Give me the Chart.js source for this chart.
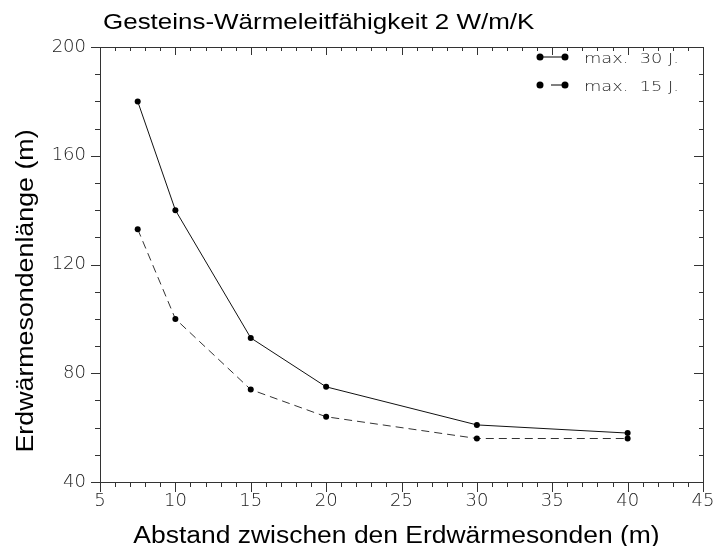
<!DOCTYPE html>
<html>
<head>
<meta charset="utf-8">
<script src="https://cdn.jsdelivr.net/npm/chart.js@4/dist/chart.umd.min.js"></script>
<style>
  html, body { margin: 0; padding: 0; background: #fff; }
  #wrap { width: 715px; height: 546px; }
</style>
</head>
<body>
<div id="wrap"><canvas id="myChart" width="715" height="546"></canvas></div>
<script>
// data
const abstand = [7.5, 10, 15, 20, 30, 40];
const laenge30 = [180, 140, 93, 75, 61, 58];
const laenge15 = [133, 100, 74, 64, 56, 56];
const seriesNames = ["max.  30 J.", "max.  15 J."];
const titleText = "Gesteins-Wärmeleitfähigkeit 2 W/m/K";
const xTitle = "Abstand zwischen den Erdwärmesonden (m)";
const yTitle = "Erdwärmesondenlänge (m)";

const thinFont = "'DejaVu Sans', sans-serif";
const sansFont = "'Liberation Sans', Arial, sans-serif";

function toPoints(xs, ys) {
    return xs.map((x, i) => ({ x: x, y: ys[i] }));
}

// text that is a bit wider than the installed fonts: stretch along its run
function wideText(ctx, text, x, y, stretch, align) {
    ctx.save();
    ctx.translate(x, y);
    ctx.scale(stretch, 1);
    ctx.textAlign = align || 'left';
    ctx.fillText(text, 0, 0);
    ctx.restore();
}

// frame, minor/major ticks, titles and legend drawn with the chart's scales
const framePlugin = {
    id: 'frame',
    afterDraw(chart) {
        const ctx = chart.ctx;
        const a = chart.chartArea;
        const xs = chart.scales.x, ys = chart.scales.y;
        ctx.save();
        ctx.strokeStyle = '#333';
        ctx.lineWidth = 1;
        ctx.strokeRect(Math.round(a.left) + 0.5, Math.round(a.top) + 0.5,
            Math.round(a.right - a.left), Math.round(a.bottom - a.top));
        ctx.beginPath();
        for (let v = xs.min; v <= xs.max; v++) {
            const px = Math.round(xs.getPixelForValue(v)) + 0.5;
            const major = v % 5 === 0;
            ctx.moveTo(px, a.bottom); ctx.lineTo(px, a.bottom + (major ? 10 : 5));
            ctx.moveTo(px, a.top); ctx.lineTo(px, a.top + (major ? 8 : 4));
        }
        for (let v = ys.min; v <= ys.max; v += 10) {
            const py = Math.round(ys.getPixelForValue(v)) + 0.5;
            const major = v % 40 === 0;
            ctx.moveTo(a.left, py); ctx.lineTo(a.left - (major ? 9 : 5), py);
            ctx.moveTo(a.right, py); ctx.lineTo(a.right - (major ? 9 : 4), py);
        }
        ctx.stroke();

        // titles
        ctx.fillStyle = '#000';
        ctx.textBaseline = 'alphabetic';
        ctx.font = "22px " + sansFont;
        wideText(ctx, titleText, 103, 29, 1.18, 'left');

        ctx.font = "23px " + sansFont;
        wideText(ctx, xTitle, (a.left + a.right) / 2 - 5, 543, 1.15, 'center');

        ctx.save();
        ctx.translate(33, 291);
        ctx.rotate(-Math.PI / 2);
        ctx.font = "23.5px " + sansFont;
        wideText(ctx, yTitle, 0, 0, 1.14, 'center');
        ctx.restore();

        // legend
        const rows = [{ y: 57, dashed: false }, { y: 85, dashed: true }];
        rows.forEach((r, i) => {
            const x1 = 540, x2 = 565;
            ctx.strokeStyle = '#000';
            ctx.beginPath();
            ctx.moveTo(r.dashed ? 551 : x1, r.y); ctx.lineTo(x2, r.y);
            ctx.stroke();
            ctx.fillStyle = '#000';
            [x1, x2].forEach(px => {
                ctx.beginPath();
                ctx.arc(px, r.y, 3.5, 0, Math.PI * 2);
                ctx.fill();
            });
            ctx.fillStyle = '#222';
            ctx.font = "200 14px " + thinFont;
            ctx.textBaseline = 'middle';
            const w = ctx.measureText(seriesNames[i]).width;
            wideText(ctx, seriesNames[i], 584, r.y + 2, 95 / w, 'left');
        });
        ctx.restore();
    }
};

const ctx = document.getElementById('myChart').getContext('2d');
const chart = new Chart(ctx, {
    type: 'line',
    data: {
        datasets: [
            {
                label: seriesNames[0],
                data: toPoints(abstand, laenge30),
                borderColor: '#111',
                backgroundColor: '#000',
                borderWidth: 1,
                pointRadius: 3,
                pointBorderWidth: 0,
                tension: 0
            },
            {
                label: seriesNames[1],
                data: toPoints(abstand, laenge15),
                borderColor: '#333',
                backgroundColor: '#000',
                borderWidth: 1,
                borderDash: [8, 5],
                pointRadius: 3,
                pointBorderWidth: 0,
                tension: 0
            }
        ]
    },
    options: {
        responsive: false,
        animation: false,
        layout: { padding: { top: 47, right: 12, left: 0, bottom: 0 } },
        plugins: {
            legend: { display: false },
            title: { display: false },
            tooltip: { enabled: false }
        },
        scales: {
            x: {
                type: 'linear',
                min: 5,
                max: 45,
                grid: { display: false, drawTicks: false },
                border: { display: false },
                ticks: {
                    stepSize: 5,
                    padding: 9,
                    color: '#222',
                    font: { family: thinFont, size: 18, weight: 200 }
                },
                afterFit: s => { s.height = 64; s.paddingLeft = 0; s.paddingRight = 0; }
            },
            y: {
                min: 40,
                max: 200,
                grid: { display: false, drawTicks: false },
                border: { display: false },
                ticks: {
                    stepSize: 40,
                    padding: 14,
                    color: '#222',
                    font: { family: thinFont, size: 18, weight: 200 }
                },
                afterFit: s => { s.width = 100; s.paddingTop = 0; s.paddingBottom = 0; }
            }
        }
    },
    plugins: [framePlugin]
});
</script>
</body>
</html>
